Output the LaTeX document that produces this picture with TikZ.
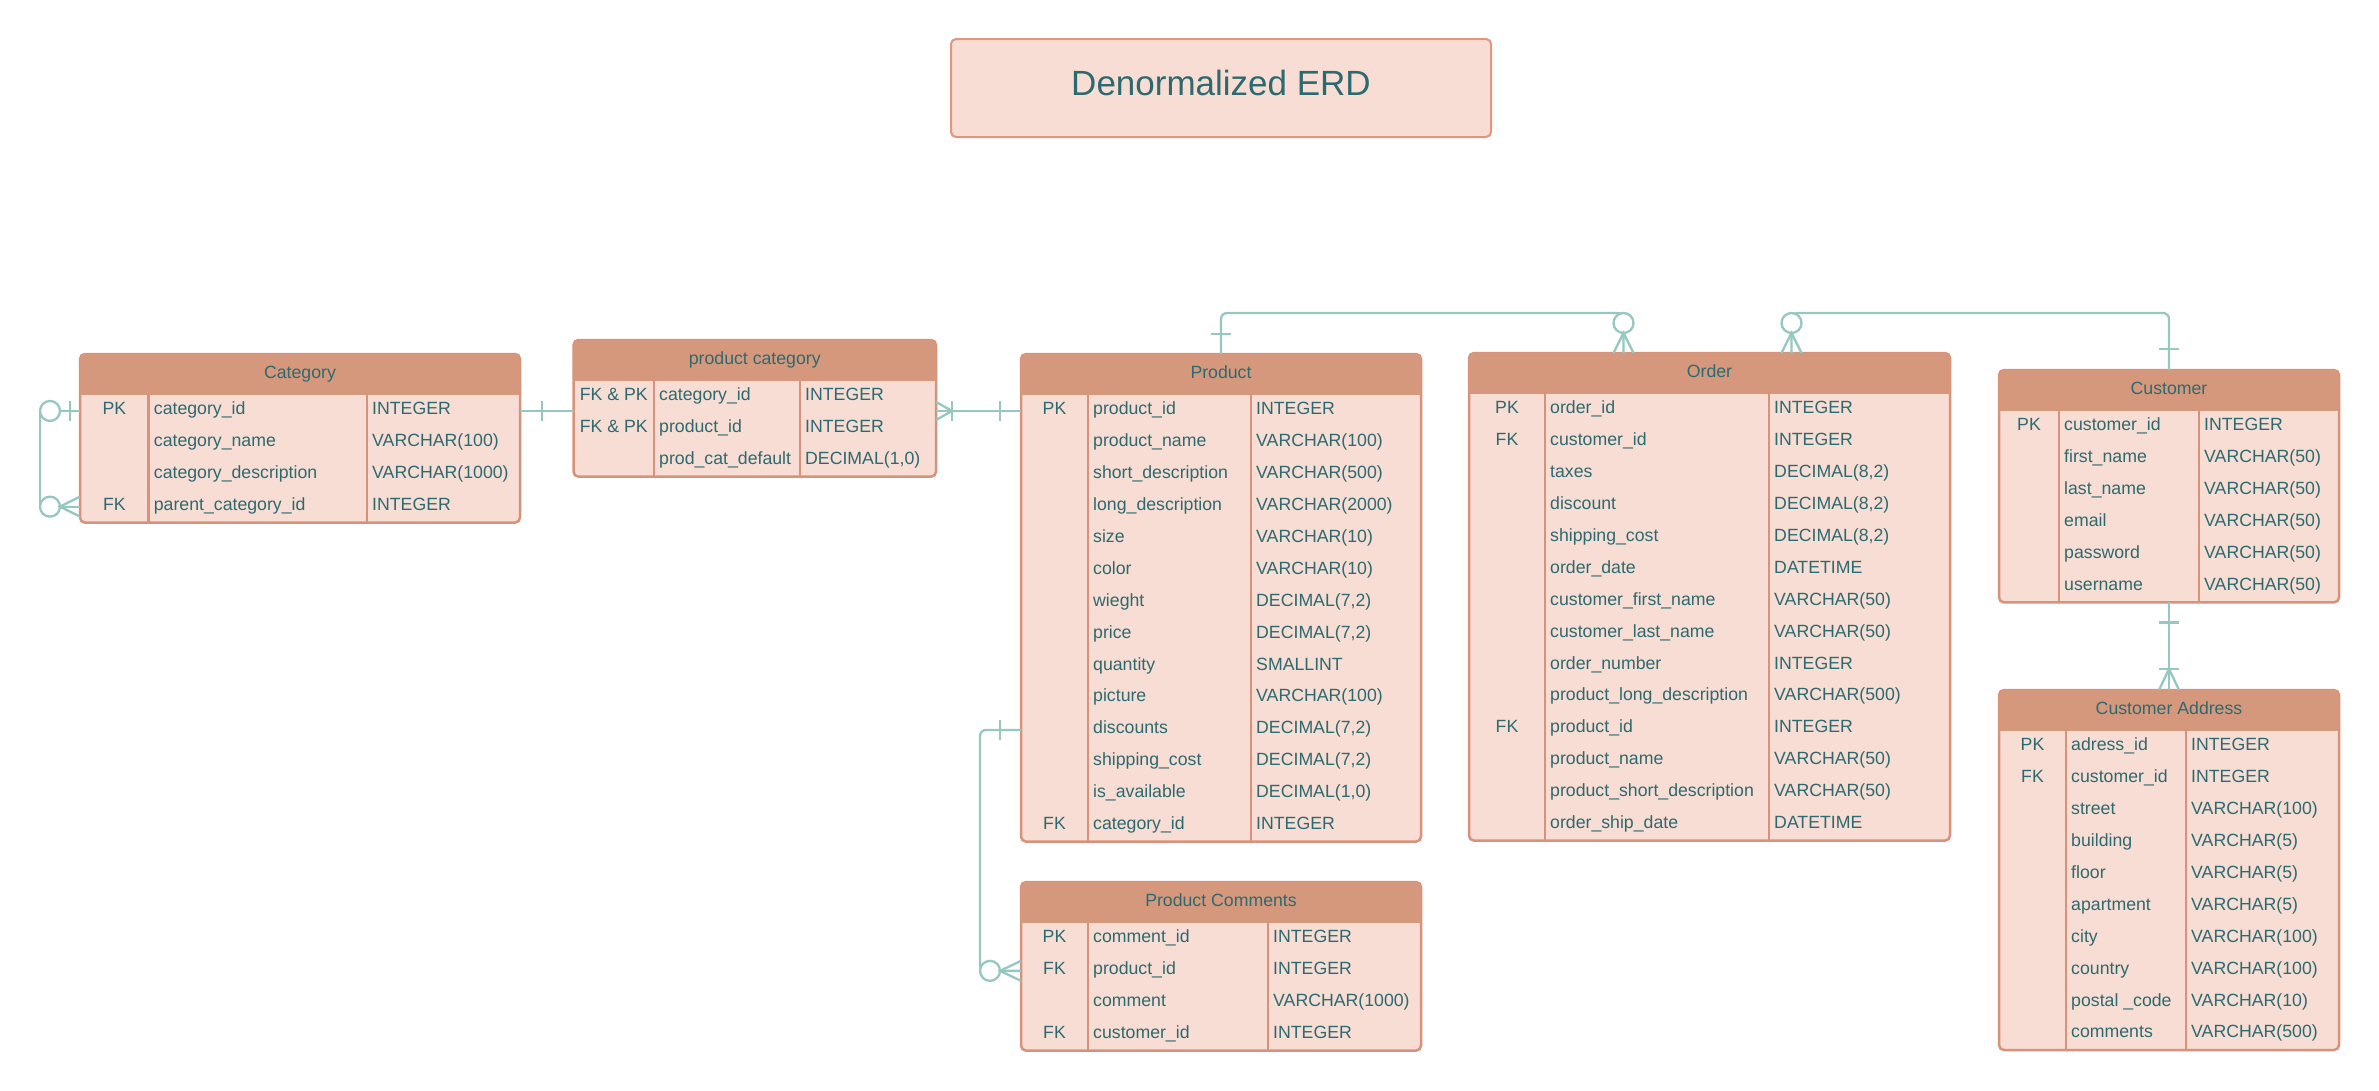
\documentclass[tikz,border=0pt]{standalone}
\usepackage{fontspec}
\setmainfont{Liberation Sans}
\usepackage{xcolor}
\usepackage{tikz}
\usetikzlibrary{calc}

\definecolor{headsalmon}{HTML}{D6987C}
\definecolor{edgesalmon}{HTML}{D8927A}
\definecolor{titleedge}{HTML}{E0967C}
\definecolor{bodypeach}{HTML}{F7DDD3}
\definecolor{textteal}{HTML}{2C6A70}
\definecolor{linkteal}{HTML}{96C7C1}

\tikzset{
  erdbox/.style={draw=edgesalmon, fill=bodypeach, line width=2.5pt, rounded corners=5pt, inner sep=0pt, outer sep=0pt},
  erdrow/.style={inner sep=0pt, outer sep=0pt, minimum height=31.9pt},
  erdtext/.style={text=textteal, inner sep=0pt, font=\fontsize{17.7}{20}\selectfont},
  erdline/.style={draw=edgesalmon, line width=2.5pt},
  erdlink/.style={draw=linkteal, line width=2.3pt},
  titlebox/.style={draw=titleedge, fill=bodypeach, line width=2pt, rounded corners=5pt, inner sep=0pt, text=textteal, font=\fontsize{35}{40}\selectfont}
}

\newcommand{\erdtable}[9]{%
  \pgfmathsetmacro{\erdht}{41+#5*31.9}%
  \node[erdbox, anchor=north west, minimum width=#4, minimum height=\erdht] (#1) at (#2,#3) {};
  \begin{scope}
    \clip[rounded corners=5pt] (#2,#3) rectangle (#2+#4,#3+60);
    \fill[headsalmon] (#2,#3) rectangle (#2+#4,#3+41);
  \end{scope}
  \draw[erdline] (#2+#6,#3+41) -- (#2+#6,#3+\erdht);
  \draw[erdline] (#2+#7,#3+41) -- (#2+#7,#3+\erdht);
  \node[erdtext, anchor=base] (#1-title) at (#2+#4/2,#3+24.5) {#8};
  \foreach \fkey/\fname/\ftype [count=\rowi] in {#9}{
    \node[erdrow, minimum width=#4] (#1-r\rowi) at (#2+#4/2,#3+41+\rowi*31.9-15.95) {};
    \node[erdtext, anchor=base] (#1-k\rowi) at (#2+#6/2,#3+41+\rowi*31.9-12.1) {\fkey};
    \node[erdtext, anchor=base west] (#1-n\rowi) at (#2+#6+5,#3+41+\rowi*31.9-12.1) {\fname};
    \node[erdtext, anchor=base west] (#1-t\rowi) at (#2+#7+5,#3+41+\rowi*31.9-12.1) {\ftype};
  }
}

\begin{document}
\begin{tikzpicture}[x=1pt, y=-1pt]
\fill[white] (0,0) rectangle (2379,1090);
\node[titlebox, minimum width=540, minimum height=98, text height=14pt, text depth=0pt] (title) at (1221,88) {Denormalized ERD};

\erdtable{cat}{80}{354}{440}{4}{68.7}{287}{Category}{PK/category\_id/INTEGER, {}/category\_name/VARCHAR(100), {}/category\_description/VARCHAR(1000), FK/parent\_category\_id/INTEGER}
\erdtable{prodcat}{573.5}{340}{362.5}{3}{80.5}{226.5}{product category}{FK \& PK/category\_id/INTEGER, FK \& PK/product\_id/INTEGER, {}/prod\_cat\_default/{DECIMAL(1,0)}}
\erdtable{prod}{1021}{354}{400}{14}{67}{230}{Product}{PK/product\_id/INTEGER, {}/product\_name/VARCHAR(100), {}/short\_description/VARCHAR(500), {}/long\_description/VARCHAR(2000), {}/size/VARCHAR(10), {}/color/VARCHAR(10), {}/wieght/{DECIMAL(7,2)}, {}/price/{DECIMAL(7,2)}, {}/quantity/SMALLINT, {}/picture/VARCHAR(100), {}/discounts/{DECIMAL(7,2)}, {}/shipping\_cost/{DECIMAL(7,2)}, {}/is\_available/{DECIMAL(1,0)}, FK/category\_id/INTEGER}
\erdtable{ord}{1469}{353}{481}{14}{76}{300}{Order}{PK/order\_id/INTEGER, FK/customer\_id/INTEGER, {}/taxes/{DECIMAL(8,2)}, {}/discount/{DECIMAL(8,2)}, {}/shipping\_cost/{DECIMAL(8,2)}, {}/order\_date/DATETIME, {}/customer\_first\_name/VARCHAR(50), {}/customer\_last\_name/VARCHAR(50), {}/order\_number/INTEGER, {}/product\_long\_description/VARCHAR(500), FK/product\_id/INTEGER, {}/product\_name/VARCHAR(50), {}/product\_short\_description/VARCHAR(50), {}/order\_ship\_date/DATETIME}
\erdtable{cust}{1999}{370}{340}{6}{60}{200}{Customer}{PK/customer\_id/INTEGER, {}/first\_name/VARCHAR(50), {}/last\_name/VARCHAR(50), {}/email/VARCHAR(50), {}/password/VARCHAR(50), {}/username/VARCHAR(50)}
\erdtable{addr}{1999}{690}{340}{10}{67}{187}{Customer Address}{PK/adress\_id/INTEGER, FK/customer\_id/INTEGER, {}/street/VARCHAR(100), {}/building/VARCHAR(5), {}/floor/VARCHAR(5), {}/apartment/VARCHAR(5), {}/city/VARCHAR(100), {}/country/VARCHAR(100), {}/postal \_code/VARCHAR(10), {}/comments/VARCHAR(500)}
\erdtable{comm}{1021}{882}{400}{4}{67}{247}{Product Comments}{PK/comment\_id/INTEGER, FK/product\_id/INTEGER, {}/comment/VARCHAR(1000), FK/customer\_id/INTEGER}

\coordinate (lane) at (0,313);
\coordinate (pcend) at (prod-r1.west -| prodcat.east);
\coordinate (ordin) at ($(ord.north)+(-86,0)$);
\coordinate (ordout) at ($(ord.north)+(82,0)$);

\draw[erdlink] (cat-r1.west) -| ($(cat-r4.west)+(-40,0)$) -- (cat-r4.west);
\draw[erdlink] ($(cat-r1.west)+(-10,-10)$) -- ++(0,20);
\draw[erdlink, fill=white] ($(cat-r1.west)+(-30,0)$) circle[radius=10];
\draw[erdlink, fill=white] ($(cat-r4.west)+(-30,0)$) circle[radius=10];
\draw[erdlink] ($(cat-r4.west)+(0,-10)$) -- ($(cat-r4.west)+(-20,0)$) -- ($(cat-r4.west)+(0,10)$);

\draw[erdlink] (cat-r1.east) -- (cat-r1.east -| prodcat.west);
\draw[erdlink] ($(cat-r1.east)+(22,-10)$) -- ++(0,20);

\draw[erdlink] (pcend) -- (prod-r1.west);
\draw[erdlink] ($(pcend)+(0,-9)$) -- ($(pcend)+(16,0)$) -- ($(pcend)+(0,9)$);
\draw[erdlink] ($(pcend)+(16,-10)$) -- ++(0,20);
\draw[erdlink] ($(prod-r1.west)+(-21,-10)$) -- ++(0,20);

\draw[erdlink, rounded corners=6] (prod.north) -- (prod.north |- lane) -| (ordin);
\draw[erdlink] ($(prod.north)+(-10,-20)$) -- ++(20,0);
\draw[erdlink, fill=white] ($(ordin)+(0,-30)$) circle[radius=10];
\draw[erdlink] ($(ordin)+(-10,0)$) -- ($(ordin)+(0,-20)$) -- ($(ordin)+(10,0)$);

\draw[erdlink, rounded corners=6] (ordout) -- (ordout |- lane) -| (cust.north);
\draw[erdlink, fill=white] ($(ordout)+(0,-30)$) circle[radius=10];
\draw[erdlink] ($(ordout)+(-10,0)$) -- ($(ordout)+(0,-20)$) -- ($(ordout)+(10,0)$);
\draw[erdlink] ($(cust.north)+(-10,-21)$) -- ++(20,0);

\draw[erdlink] (cust.south) -- (addr.north);
\draw[erdlink] ($(cust.south)+(-10,20)$) -- ++(20,0);
\draw[erdlink] ($(addr.north)+(-10,-21)$) -- ++(20,0);
\draw[erdlink] ($(addr.north)+(-10,0)$) -- ($(addr.north)+(0,-21)$) -- ($(addr.north)+(10,0)$);

\draw[erdlink, rounded corners=6] (prod-r11.west) -| ($(comm-r2.west)+(-41,0)$) -- (comm-r2.west);
\draw[erdlink] ($(prod-r11.west)+(-21,-10)$) -- ++(0,20);
\draw[erdlink, fill=white] ($(comm-r2.west)+(-31,0)$) circle[radius=10];
\draw[erdlink] ($(comm-r2.west)+(0,-10)$) -- ($(comm-r2.west)+(-21,0)$) -- ($(comm-r2.west)+(0,10)$);
\end{tikzpicture}
\end{document}
